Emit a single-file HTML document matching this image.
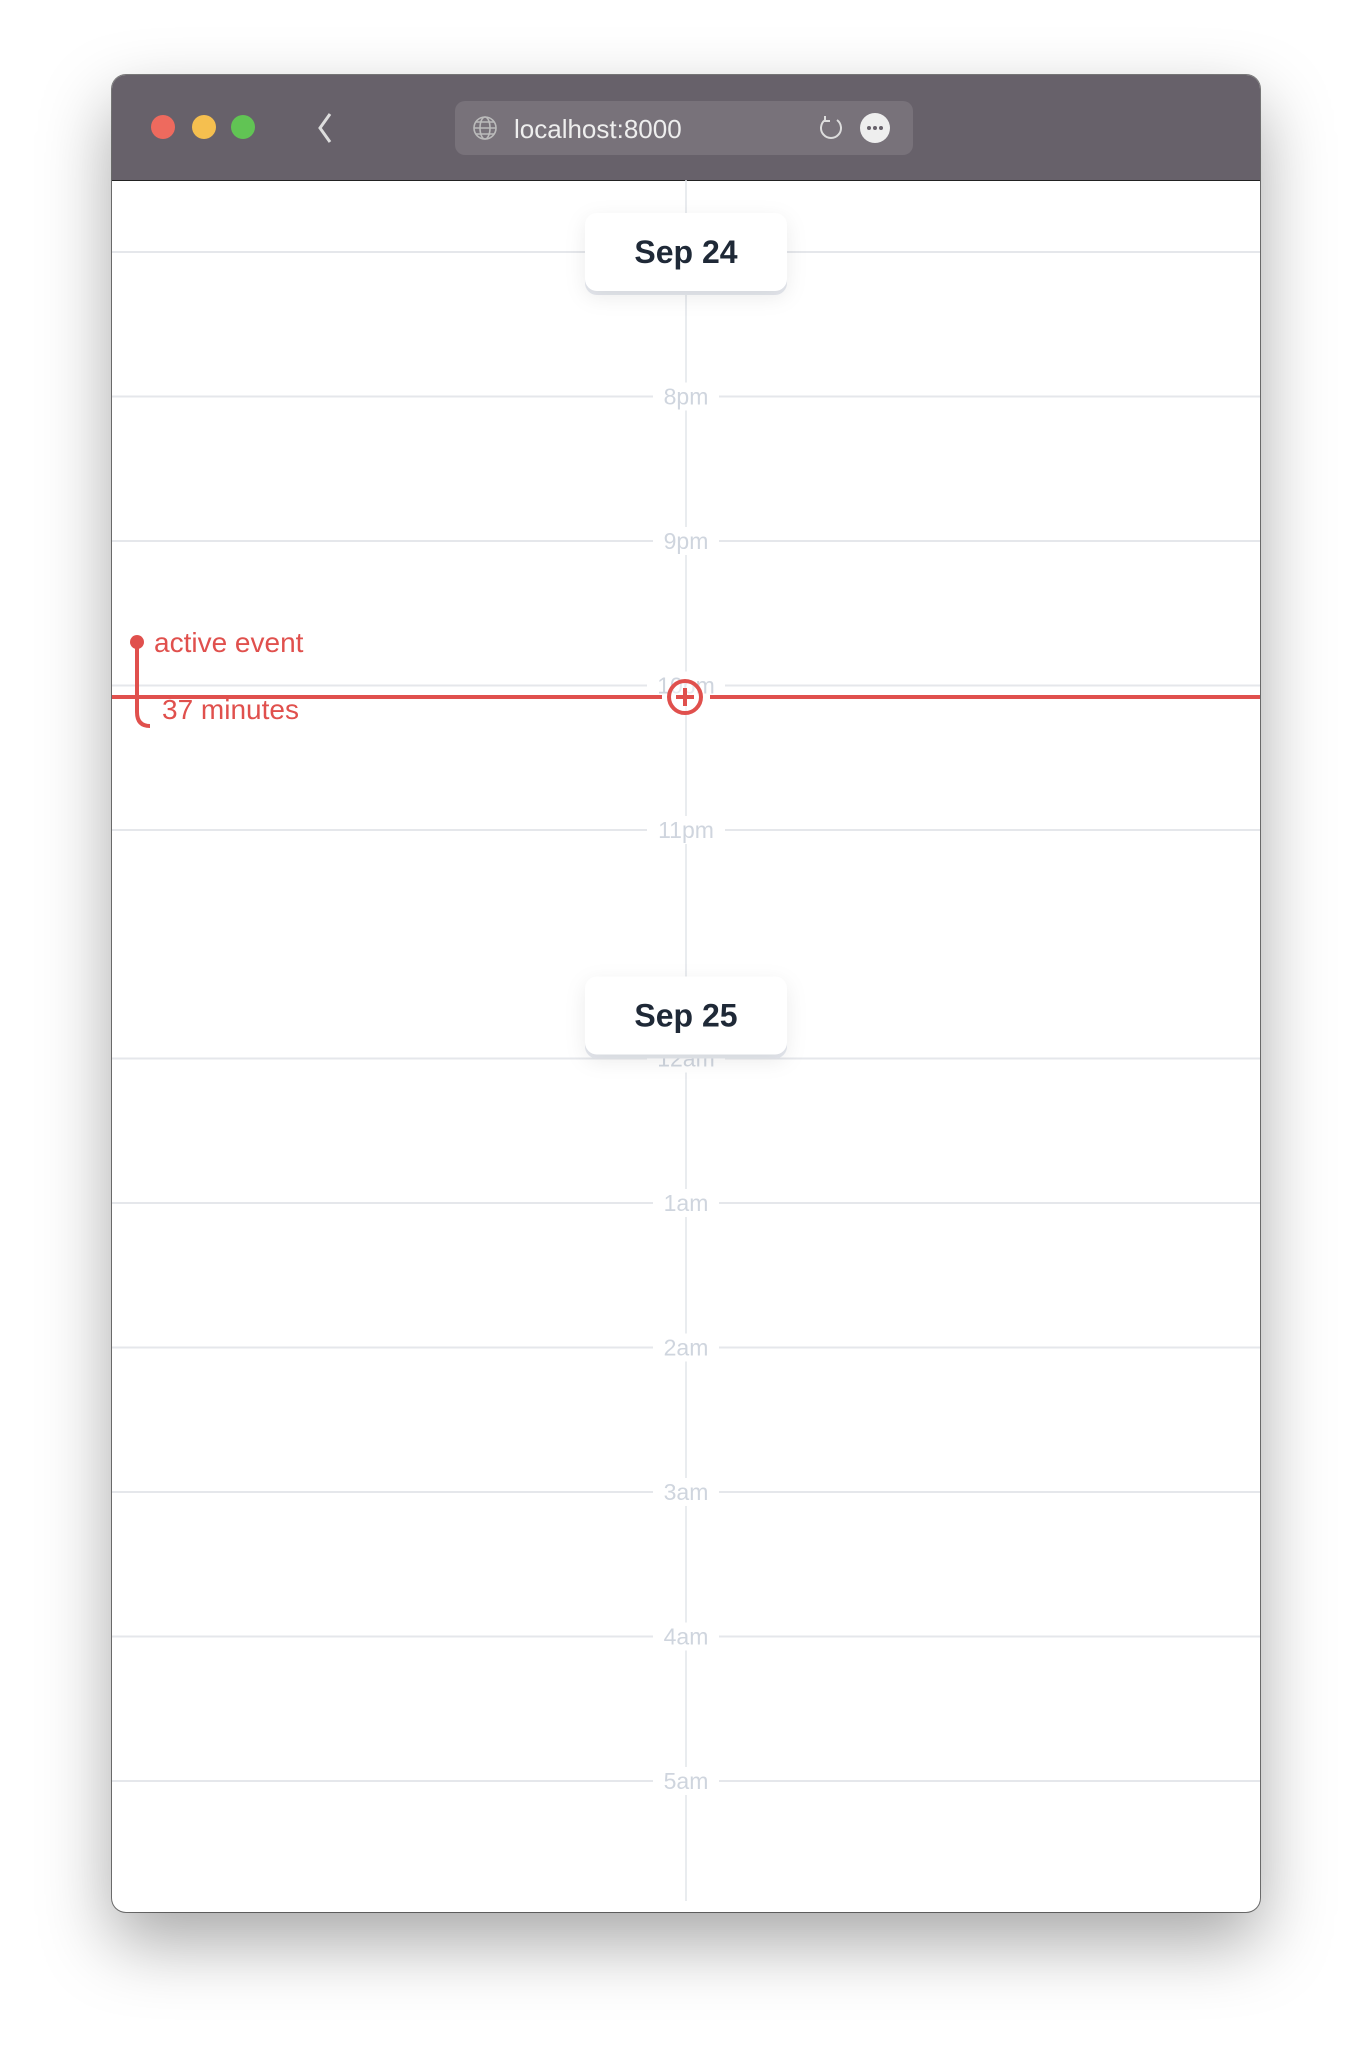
<!DOCTYPE html>
<html><head><meta charset="utf-8">
<style>
html,body{margin:0;padding:0;background:#fff;width:1372px;height:2060px;overflow:hidden;font-family:"Liberation Sans",sans-serif}
#win{position:absolute;left:112px;top:75px;width:1148px;height:1837px;border-radius:14px;background:#fff;box-shadow:0 30px 70px rgba(0,0,0,0.35),0 0 0 1px rgba(0,0,0,0.5);overflow:hidden}
#bar{position:absolute;left:0;top:0;width:100%;height:105px;background:#67616a;border-bottom:1px solid #222}
.light{position:absolute;top:40px;width:24px;height:24px;border-radius:50%}
#url{position:absolute;left:343px;top:26px;width:458px;height:54px;border-radius:10px;background:#78727a}
#url span{position:absolute;left:59px;top:13px;color:#eee;font-size:26px}
</style></head><body>
<div id="win">
<div id="bar">
<div class="light" style="left:39px;background:#ee6a5e"></div>
<div class="light" style="left:80px;background:#f5bf4f"></div>
<div class="light" style="left:119px;background:#61c454"></div>
<svg style="position:absolute;left:200px;top:36px" width="26" height="34"><path d="M18 3 L8 17 L18 31" stroke="#ddd" stroke-width="3" fill="none"/></svg>
<div id="url">
<svg style="position:absolute;left:17px;top:14px" width="26" height="26"><g stroke="#bbb" stroke-width="1.6" fill="none"><circle cx="13" cy="13" r="11"/><ellipse cx="13" cy="13" rx="5" ry="11"/><line x1="2" y1="13" x2="24" y2="13"/><line x1="4" y1="7" x2="22" y2="7"/><line x1="4" y1="19" x2="22" y2="19"/></g></svg>
<span>localhost:8000</span>
<svg style="position:absolute;left:362px;top:13px" width="28" height="28"><path d="M20 6 A10 10 0 1 1 8 6" stroke="#ddd" stroke-width="2" fill="none"/><path d="M8 2 L8 7 L13 7" stroke="#ddd" stroke-width="2" fill="none"/></svg>
<svg style="position:absolute;left:404px;top:11px" width="32" height="32"><circle cx="16" cy="16" r="15" fill="#eee"/><circle cx="10" cy="16" r="2" fill="#67616a"/><circle cx="16" cy="16" r="2" fill="#67616a"/><circle cx="22" cy="16" r="2" fill="#67616a"/></svg>
</div>
</div>
<svg id="tl" style="position:absolute;left:0;top:0" width="1148" height="1837"></svg>
</div>
<script>
const hourLabels=["7pm","8pm","9pm","10pm","11pm","12am","1am","2am","3am","4am","5am"];
const dayLabels=["Sep 24","Sep 25"];
const dayStartIndex=[0,5];
const eventLabel="active event";
const eventDuration="37 minutes";
const nowHour=3.08;
const NS="http://www.w3.org/2000/svg";
const svg=document.getElementById('tl');
const ox=112,oy=75,cx=686-ox;
const hourPx=144.5,dayGap=84;
function y(i){return 252-oy+i*hourPx+(i>=5?dayGap:0);}
function mk(t,a,p){const e=document.createElementNS(NS,t);for(const k in a)e.setAttribute(k,a[k]);(p||svg).appendChild(e);return e;}
let l=mk('line',{x1:cx,y1:105,x2:cx,y2:1826,stroke:'#e2e5ea','stroke-width':1.5});


hourLabels.forEach((h,i)=>{
  const yy=y(i);
  const g=mk('g',{});
  
  
  mk('line',{x1:0,y1:yy,x2:1148,y2:yy,stroke:'#e5e7eb','stroke-width':2},g);
  const w=h.length*12+30;
  mk('rect',{x:cx-w/2,y:yy-14,width:w,height:28,fill:'#fff'},g);
  const t=mk('text',{x:cx,y:yy+8,'text-anchor':'middle','font-size':23,fill:'#cfd5de','font-family':'Liberation Sans, sans-serif'},g);
  t.textContent=h;
});
const ny=y(0)+nowHour*hourPx;
const ng=mk('g',{});


mk('line',{x1:0,y1:ny,x2:cx-24,y2:ny,stroke:'#e0504d','stroke-width':4},ng);
mk('line',{x1:cx+24,y1:ny,x2:1148,y2:ny,stroke:'#e0504d','stroke-width':4},ng);
const pb=mk('g',{});


mk('circle',{cx:cx-1,cy:ny,r:16,fill:'rgba(255,255,255,0.5)',stroke:'#e0504d','stroke-width':4},pb);
mk('path',{d:`M${cx-10} ${ny}H${cx+8}M${cx-1} ${ny-9}V${ny+9}`,stroke:'#e0504d','stroke-width':4},pb);
const ey=ny-55;
const eg=mk('g',{});


mk('circle',{cx:25,cy:ey,r:7,fill:'#e0504d'},eg);
mk('path',{d:`M25 ${ey} V${ey+70} Q25 ${ey+84} 38 ${ey+84}`,stroke:'#e0504d','stroke-width':4,fill:'none'},eg);
let t1=mk('text',{x:42,y:ey+10,'font-size':28,fill:'#e0504d'},eg);t1.textContent=eventLabel;
let t2=mk('text',{x:50,y:ey+77,'font-size':28,fill:'#e0504d'},eg);t2.textContent=eventDuration;
dayLabels.forEach((d,i)=>{
  const yy=y(dayStartIndex[i]) - (i===0?0:43);
  const g=mk('g',{});
  
  
  mk('rect',{x:473,y:yy-37,width:202,height:80,rx:12,fill:'#e6e9ef'},g);
  mk('rect',{x:473,y:yy-39,width:202,height:78,rx:12,fill:'#fff',style:'filter:drop-shadow(0 6px 10px rgba(0,0,0,0.08))'},g);
  const t=mk('text',{x:cx,y:yy+11,'text-anchor':'middle','font-size':32,'font-weight':'bold',fill:'#1f2937'},g);
  t.textContent=d;
});
</script>
</body></html>
